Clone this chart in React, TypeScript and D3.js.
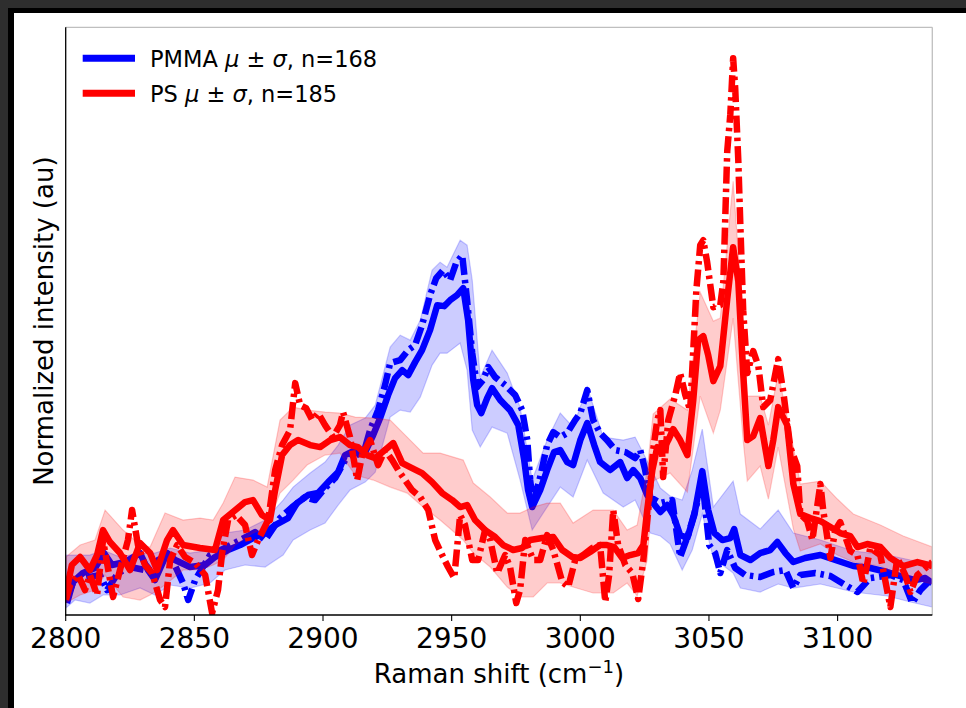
import React from "react";
import * as d3 from "d3";

// Raman shift axis
const xTicks = [2800, 2850, 2900, 2950, 3000, 3050, 3100];
const X_MIN = 2800;
const X_MAX = 3136.8;
const Y_MIN = 0;
const Y_MAX = 5.88;

// PMMA mean spectrum [shift, intensity]
const pmmaMean: [number, number][] = [
  [2800.5, 0.12], [2802.8, 0.33], [2806.7, 0.42], [2811.4, 0.47], [2814.9, 0.62], [2818.0, 0.50],
  [2823.1, 0.53], [2828.9, 0.62], [2832.0, 0.45], [2834.7, 0.35], [2839.4, 0.62], [2842.5, 0.55],
  [2848.3, 0.48], [2854.2, 0.50], [2858.0, 0.58], [2863.1, 0.65], [2867.8, 0.70], [2872.8, 0.77],
  [2877.5, 0.82], [2881.4, 0.90], [2886.4, 0.97], [2889.9, 1.12], [2894.2, 1.20], [2898.1, 1.22],
  [2902.0, 1.33], [2905.9, 1.43], [2908.6, 1.60], [2912.5, 1.65], [2916.4, 1.63], [2919.5, 1.80],
  [2922.2, 1.97], [2925.3, 2.20], [2928.0, 2.37], [2930.8, 2.45], [2933.1, 2.40], [2935.8, 2.53],
  [2938.5, 2.65], [2941.6, 2.85], [2944.4, 3.10], [2947.1, 3.09], [2949.4, 3.15], [2952.1, 3.20],
  [2954.5, 3.27], [2956.4, 2.95], [2958.4, 2.35], [2959.9, 2.10], [2961.5, 2.02], [2963.8, 2.17],
  [2965.7, 2.27], [2968.9, 2.15], [2972.7, 2.05], [2975.9, 1.90], [2978.2, 1.55], [2979.7, 1.25],
  [2981.3, 1.08], [2984.4, 1.25], [2987.1, 1.45], [2989.8, 1.63], [2992.2, 1.65], [2994.9, 1.53],
  [2997.2, 1.50], [3000.0, 1.75], [3002.7, 1.92], [3005.4, 1.70], [3007.7, 1.53], [3011.6, 1.45],
  [3015.5, 1.53], [3018.2, 1.37], [3020.6, 1.45], [3023.3, 1.37], [3026.0, 1.20], [3028.3, 1.12],
  [3031.1, 1.03], [3033.8, 1.10], [3036.1, 1.00], [3038.8, 0.80], [3041.6, 0.77], [3044.3, 1.00],
  [3047.4, 1.44], [3049.7, 1.05], [3052.1, 0.82], [3055.2, 0.75], [3058.3, 0.77], [3059.8, 0.86],
  [3062.2, 0.60], [3066.1, 0.55], [3069.9, 0.62], [3073.8, 0.65], [3076.6, 0.73], [3079.7, 0.62],
  [3082.8, 0.53], [3087.4, 0.57], [3093.3, 0.60], [3099.1, 0.55], [3106.1, 0.49], [3112.7, 0.47],
  [3119.3, 0.43], [3124.4, 0.39], [3130.2, 0.35], [3134.1, 0.37], [3136.8, 0.32],
];

// PMMA second (dash-dot) spectrum [shift, intensity]
const pmmaDashDot: [number, number][] = [
  [2800.5, 0.17], [2802.8, 0.32], [2807.5, 0.37], [2813.3, 0.40], [2816.1, 0.25], [2820.3, 0.42],
  [2825.0, 0.48], [2830.8, 0.45], [2835.9, 0.55], [2840.6, 0.60], [2845.6, 0.32], [2847.6, 0.15],
  [2850.3, 0.35], [2856.1, 0.60], [2861.9, 0.67], [2867.8, 0.75], [2873.6, 0.83], [2877.5, 0.75],
  [2883.3, 0.97], [2888.0, 1.08], [2893.0, 1.18], [2896.9, 1.15], [2900.8, 1.27], [2904.7, 1.37],
  [2908.6, 1.55], [2912.5, 1.65], [2915.2, 1.57], [2918.3, 1.85], [2921.4, 2.05], [2924.1, 2.30],
  [2926.1, 2.52], [2930.0, 2.55], [2933.1, 2.65], [2935.8, 2.70], [2938.5, 2.90], [2941.6, 3.20],
  [2944.0, 3.37], [2946.7, 3.45], [2949.4, 3.35], [2951.7, 3.52], [2954.1, 3.60], [2956.0, 3.15],
  [2958.0, 2.62], [2959.9, 2.28], [2962.2, 2.35], [2964.2, 2.48], [2966.9, 2.38], [2970.8, 2.30],
  [2974.7, 2.20], [2977.4, 2.05], [2979.4, 1.75], [2980.5, 1.35], [2981.7, 1.12], [2984.4, 1.38],
  [2987.1, 1.70], [2989.5, 1.83], [2992.2, 1.78], [2994.9, 1.82], [2998.0, 1.95], [3000.0, 2.02],
  [3002.7, 2.25], [3005.0, 1.95], [3007.7, 1.82], [3010.4, 1.75], [3013.6, 1.65], [3017.5, 1.63],
  [3021.3, 1.57], [3023.3, 1.65], [3025.2, 1.45], [3027.2, 1.18], [3031.1, 1.12], [3035.7, 1.15],
  [3038.8, 0.58], [3041.9, 0.80], [3044.7, 1.05], [3047.4, 1.35], [3050.1, 0.70], [3052.4, 0.62],
  [3054.4, 0.42], [3057.1, 0.65], [3060.2, 0.47], [3064.1, 0.40], [3069.9, 0.38], [3075.0, 0.43],
  [3079.7, 0.45], [3082.8, 0.27], [3085.5, 0.40], [3091.3, 0.42], [3097.2, 0.39], [3103.0, 0.30],
  [3107.7, 0.23], [3112.7, 0.37], [3120.5, 0.40], [3125.5, 0.35], [3129.0, 0.12], [3132.2, 0.25],
  [3136.8, 0.37],
];

// PMMA mean ± sd band [shift, low, high]
const pmmaBand: [number, number, number][] = [
  [2800.1, 0.07, 0.60], [2803.6, 0.15, 0.60], [2809.4, 0.12, 0.60], [2814.5, 0.20, 0.65],
  [2821.1, 0.20, 0.58], [2828.9, 0.27, 0.62], [2834.7, 0.20, 0.62], [2840.6, 0.30, 0.67],
  [2848.3, 0.27, 0.62], [2856.1, 0.32, 0.65], [2861.9, 0.45, 0.82], [2869.7, 0.50, 0.85],
  [2877.5, 0.48, 0.95], [2884.5, 0.60, 1.15], [2888.4, 0.75, 1.28], [2895.0, 0.85, 1.42],
  [2900.8, 0.92, 1.53], [2905.9, 1.10, 1.70], [2910.5, 1.25, 1.90], [2916.4, 1.33, 1.97],
  [2920.3, 1.43, 2.10], [2926.1, 1.98, 2.68], [2930.0, 2.05, 2.80], [2933.9, 2.03, 2.75],
  [2937.8, 2.18, 2.95], [2942.4, 2.50, 3.45], [2945.5, 2.62, 3.53], [2948.2, 2.62, 3.48],
  [2953.3, 2.72, 3.75], [2956.0, 2.45, 3.70], [2958.0, 1.85, 3.35], [2961.1, 1.68, 2.38],
  [2965.7, 1.88, 2.65], [2971.6, 1.82, 2.42], [2976.6, 1.35, 2.08], [2981.3, 0.85, 1.35],
  [2987.1, 1.08, 1.75], [2992.2, 1.28, 2.02], [2997.2, 1.18, 1.88], [3002.7, 1.55, 2.28],
  [3008.9, 1.22, 1.78], [3016.7, 1.08, 1.75], [3021.3, 1.15, 1.78], [3027.2, 0.82, 1.48],
  [3031.1, 0.79, 1.27], [3034.9, 0.71, 1.19], [3039.6, 0.45, 1.15], [3043.5, 0.65, 1.45],
  [3047.4, 1.01, 1.86], [3051.7, 0.57, 1.08], [3059.4, 0.42, 1.34], [3062.2, 0.27, 1.01],
  [3069.9, 0.23, 0.86], [3076.9, 0.31, 1.05], [3082.8, 0.27, 0.82], [3093.3, 0.31, 0.75],
  [3106.1, 0.23, 0.64], [3119.3, 0.19, 0.60], [3128.3, 0.13, 0.55], [3136.8, 0.08, 0.53],
];

// PS mean spectrum [shift, intensity]
const psMean: [number, number][] = [
  [2800.1, 0.22], [2802.4, 0.50], [2805.6, 0.58], [2809.4, 0.45], [2812.2, 0.60], [2814.5, 0.85],
  [2817.2, 0.73], [2821.1, 0.62], [2825.0, 0.45], [2828.9, 0.72], [2832.8, 0.62], [2835.5, 0.45],
  [2839.4, 0.75], [2841.7, 0.85], [2845.6, 0.70], [2852.2, 0.67], [2858.0, 0.65], [2861.2, 0.95],
  [2865.0, 1.03], [2869.7, 1.13], [2872.8, 1.15], [2876.3, 1.00], [2879.4, 0.95], [2881.4, 1.25],
  [2884.1, 1.60], [2887.2, 1.70], [2890.3, 1.75], [2895.0, 1.70], [2898.9, 1.68], [2902.8, 1.75],
  [2906.6, 1.78], [2910.5, 1.70], [2913.6, 1.68], [2917.1, 1.60], [2920.3, 1.57], [2924.1, 1.65],
  [2927.3, 1.72], [2930.8, 1.52], [2934.6, 1.47], [2938.5, 1.42], [2942.4, 1.33], [2946.3, 1.22],
  [2950.2, 1.15], [2953.3, 1.08], [2956.0, 1.10], [2959.1, 0.95], [2963.0, 0.85], [2966.9, 0.78],
  [2970.0, 0.70], [2973.9, 0.65], [2977.4, 0.67], [2980.5, 0.75], [2985.2, 0.77], [2989.5, 0.78],
  [2993.0, 0.65], [2996.9, 0.58], [3000.0, 0.57], [3003.8, 0.63], [3007.7, 0.70], [3010.4, 0.70],
  [3013.2, 0.68], [3016.3, 0.57], [3019.4, 0.60], [3022.5, 0.62], [3024.5, 0.70], [3026.0, 1.05],
  [3028.0, 1.45], [3029.9, 1.68], [3032.2, 1.65], [3034.2, 1.75], [3036.1, 1.86], [3038.8, 1.75],
  [3041.6, 1.60], [3043.9, 2.15], [3045.8, 2.75], [3047.8, 2.79], [3049.7, 2.60], [3051.7, 2.34],
  [3054.4, 2.49], [3057.1, 3.16], [3059.4, 3.68], [3061.4, 3.34], [3063.3, 2.42], [3064.9, 1.75],
  [3067.2, 1.79], [3069.9, 1.97], [3073.1, 1.49], [3075.0, 1.75], [3076.9, 2.08], [3080.4, 1.90],
  [3082.8, 1.31], [3085.5, 1.01], [3089.4, 0.97], [3093.3, 0.94], [3097.2, 0.88], [3101.0, 0.82],
  [3104.9, 0.79], [3107.7, 0.68], [3111.5, 0.71], [3116.6, 0.68], [3120.5, 0.57], [3125.5, 0.49],
  [3131.0, 0.53], [3136.8, 0.49],
];

// PS second (dash-dot) spectrum [shift, intensity]
const psDashDot: [number, number][] = [
  [2800.1, 0.15], [2801.7, 0.30], [2804.8, 0.40], [2807.5, 0.25], [2809.4, 0.40], [2812.2, 0.20],
  [2814.5, 0.75], [2818.4, 0.18], [2821.1, 0.45], [2824.2, 0.75], [2825.8, 1.05], [2828.1, 0.70],
  [2830.8, 0.50], [2833.6, 0.42], [2836.7, 0.15], [2838.6, 0.08], [2840.6, 0.55], [2843.3, 0.70],
  [2846.4, 0.58], [2850.3, 0.52], [2854.2, 0.40], [2856.9, 0.02], [2859.2, 0.25], [2860.8, 0.62],
  [2863.1, 0.95], [2866.2, 1.00], [2869.7, 0.90], [2872.4, 0.60], [2874.8, 0.75], [2878.7, 0.95],
  [2881.4, 1.45], [2884.1, 1.70], [2887.2, 1.85], [2889.2, 2.32], [2891.1, 2.10], [2893.4, 2.07],
  [2895.8, 1.95], [2898.1, 2.02], [2900.8, 1.90], [2903.9, 1.78], [2906.6, 1.90], [2907.8, 2.03],
  [2910.5, 1.78], [2913.3, 1.35], [2915.2, 1.60], [2918.3, 1.75], [2921.4, 1.50], [2924.1, 1.65],
  [2926.9, 1.55], [2929.2, 1.45], [2931.9, 1.35], [2934.6, 1.25], [2937.8, 1.18], [2940.9, 1.05],
  [2943.6, 0.75], [2946.3, 0.60], [2948.6, 0.48], [2951.0, 0.37], [2953.3, 1.00], [2955.2, 0.90],
  [2958.0, 0.55], [2960.3, 0.55], [2963.0, 0.85], [2965.0, 0.75], [2967.7, 0.42], [2970.8, 0.60],
  [2972.7, 0.48], [2975.1, 0.12], [2976.6, 0.25], [2978.6, 0.75], [2981.7, 0.55], [2984.4, 0.55],
  [2987.1, 0.80], [2989.5, 0.65], [2993.0, 0.33], [2995.3, 0.28], [2998.0, 0.55], [3001.1, 0.60],
  [3004.6, 0.67], [3007.7, 0.70], [3009.7, 0.13], [3011.2, 0.40], [3012.8, 1.05], [3014.7, 0.70],
  [3017.5, 0.50], [3020.2, 0.42], [3022.5, 0.16], [3024.5, 0.55], [3026.4, 1.05], [3028.3, 1.65],
  [3029.9, 1.95], [3031.1, 2.05], [3032.2, 1.38], [3034.2, 1.95], [3036.9, 2.20], [3038.8, 2.42],
  [3040.8, 2.20], [3042.7, 2.05], [3045.1, 3.25], [3046.6, 3.70], [3047.8, 3.75], [3049.3, 3.53],
  [3051.7, 3.08], [3054.4, 3.10], [3055.6, 3.34], [3057.1, 4.64], [3058.3, 5.01], [3059.4, 5.57],
  [3060.2, 5.27], [3061.4, 4.55], [3062.2, 3.90], [3063.3, 3.05], [3064.9, 2.42], [3067.2, 2.64],
  [3069.2, 2.49], [3071.1, 2.08], [3073.8, 2.15], [3076.9, 2.56], [3078.9, 2.23], [3081.6, 1.68],
  [3084.3, 1.49], [3085.5, 1.01], [3088.2, 0.94], [3090.2, 0.75], [3093.3, 1.31], [3094.4, 1.05],
  [3097.2, 0.57], [3099.1, 0.85], [3101.0, 0.93], [3104.9, 0.64], [3107.7, 0.60], [3110.0, 0.31],
  [3112.7, 0.67], [3116.6, 0.60], [3120.5, 0.08], [3123.2, 0.57], [3126.3, 0.40], [3128.3, 0.23],
  [3131.0, 0.40], [3133.3, 0.45], [3136.8, 0.53],
];

// PS mean ± sd band [shift, low, high]
const psBand: [number, number, number][] = [
  [2800.1, 0.12, 0.58], [2805.6, 0.20, 0.70], [2811.4, 0.25, 0.75], [2815.3, 0.40, 1.05],
  [2822.3, 0.18, 0.85], [2828.9, 0.15, 0.70], [2832.8, 0.20, 0.68], [2838.6, 0.30, 1.02],
  [2845.6, 0.45, 0.95], [2852.2, 0.45, 0.97], [2857.3, 0.50, 0.95], [2861.2, 0.55, 1.12],
  [2865.8, 0.70, 1.38], [2872.8, 0.82, 1.35], [2878.3, 0.88, 1.28], [2883.3, 1.22, 1.95],
  [2888.4, 1.35, 2.08], [2893.8, 1.50, 2.05], [2900.8, 1.60, 2.03], [2906.6, 1.62, 2.02],
  [2912.5, 1.40, 1.98], [2919.5, 1.35, 1.97], [2926.1, 1.28, 1.95], [2932.7, 1.22, 1.78],
  [2938.9, 1.08, 1.62], [2945.5, 0.95, 1.62], [2954.5, 0.75, 1.55], [2958.4, 0.62, 1.32],
  [2965.0, 0.48, 1.18], [2971.6, 0.28, 1.02], [2976.6, 0.18, 1.02], [2981.7, 0.18, 1.08],
  [2987.1, 0.32, 1.12], [2992.2, 0.32, 1.12], [2997.2, 0.28, 0.92], [3005.0, 0.22, 1.05],
  [3012.8, 0.22, 1.05], [3018.2, 0.32, 0.85], [3022.1, 0.19, 0.90], [3026.0, 0.55, 1.45],
  [3028.3, 1.34, 2.01], [3034.9, 1.42, 2.16], [3041.6, 1.23, 2.05], [3046.6, 2.19, 3.23],
  [3051.7, 1.82, 2.94], [3054.4, 2.05, 2.97], [3059.4, 2.97, 4.34], [3063.3, 1.75, 2.95],
  [3064.9, 1.34, 2.19], [3069.9, 1.49, 2.19], [3073.1, 1.16, 1.90], [3076.9, 1.68, 2.42],
  [3082.8, 0.86, 1.68], [3085.5, 0.64, 1.31], [3093.3, 0.71, 1.34], [3099.9, 0.60, 1.16],
  [3106.1, 0.53, 1.01], [3116.6, 0.49, 0.90], [3125.5, 0.38, 0.79], [3136.8, 0.31, 0.68],
];

const legendLabels = ["PMMA", "PS"];
const legendCounts = [168, 185];

const FONT = "'DejaVu Sans', sans-serif";
const BLUE = "#0000ff";
const RED = "#ff0000";

export default function App() {
  const W = 966;
  const H = 708;
  const left = 65.7;
  const right = 932.3;
  const top = 27.3;
  const bottom = 615;

  const x = d3.scaleLinear().domain([X_MIN, X_MAX]).range([left, right]);
  const y = d3.scaleLinear().domain([Y_MIN, Y_MAX]).range([bottom, top]);

  const line = d3
    .line<[number, number]>()
    .x((d) => x(d[0]))
    .y((d) => y(d[1]));
  const area = d3
    .area<[number, number, number]>()
    .x((d) => x(d[0]))
    .y0((d) => y(d[1]))
    .y1((d) => y(d[2]));

  const lw = 6.5;
  const dash = "17 5 3.5 5";

  const series = [
    { color: BLUE, band: pmmaBand, mean: pmmaMean, dd: pmmaDashDot },
    { color: RED, band: psBand, mean: psMean, dd: psDashDot },
  ];

  return (
    <svg
      width={W}
      height={H}
      style={{ position: "absolute", left: 0, top: 0, display: "block" }}
      fontFamily={FONT}
    >
      <rect x={0} y={0} width={W} height={H} fill="#2e2e2e" />
      <rect x={8} y={8} width={W - 8} height={H - 8} fill="#000" />
      <rect x={14} y={13} width={W - 14} height={H - 13} fill="#fff" />

      <defs>
        <clipPath id="plotClip">
          <rect x={left} y={top} width={right - left} height={bottom - top} />
        </clipPath>
      </defs>

      <g clipPath="url(#plotClip)">
        {series.map((s, i) => (
          <g key={i}>
            <path
              d={area(s.band) || ""}
              fill={s.color}
              fillOpacity={0.2}
              stroke={s.color}
              strokeOpacity={0.2}
              strokeWidth={1.2}
            />
            <path
              d={line(s.mean) || ""}
              fill="none"
              stroke={s.color}
              strokeWidth={lw}
              strokeLinejoin="round"
            />
            <path
              d={line(s.dd) || ""}
              fill="none"
              stroke={s.color}
              strokeWidth={lw}
              strokeLinejoin="round"
              strokeDasharray={dash}
            />
          </g>
        ))}
      </g>

      {/* spines */}
      <line x1={left} x2={right} y1={top} y2={top} stroke="#bfbfbf" strokeWidth={1.3} />
      <line x1={right} x2={right} y1={top} y2={bottom} stroke="#bfbfbf" strokeWidth={1.3} />
      <line x1={left} x2={left} y1={top} y2={bottom + 0.6} stroke="#000" strokeWidth={1.3} />
      <line x1={left - 0.6} x2={right} y1={bottom} y2={bottom} stroke="#000" strokeWidth={1.3} />

      {/* x ticks */}
      {xTicks.map((t) => (
        <g key={t}>
          <line x1={x(t)} x2={x(t)} y1={bottom} y2={bottom + 6} stroke="#000" strokeWidth={1.1} />
          <text x={x(t)} y={648} fontSize={28} textAnchor="middle" fill="#000">
            {t}
          </text>
        </g>
      ))}

      {/* axis labels */}
      <text x={(left + right) / 2} y={682.5} fontSize={26} textAnchor="middle" fill="#000">
        Raman shift (cm
        <tspan fontSize={18} dy={-10}>−1</tspan>
        <tspan dy={10}>)</tspan>
      </text>
      <text
        transform={`translate(53, ${(top + bottom) / 2}) rotate(-90)`}
        fontSize={26}
        textAnchor="middle"
        fill="#000"
      >
        Normalized intensity (au)
      </text>

      {/* legend */}
      {legendLabels.map((lab, i) => {
        const cy = 58.3 + i * 35;
        return (
          <g key={lab}>
            <line x1={82.7} x2={135} y1={cy} y2={cy} stroke={i === 0 ? BLUE : RED} strokeWidth={7} />
            <text x={150} y={cy + 8.3} fontSize={22.5} fill="#000">
              {lab} <tspan fontStyle="italic">μ</tspan> ± <tspan fontStyle="italic">σ</tspan>, n={legendCounts[i]}
            </text>
          </g>
        );
      })}
    </svg>
  );
}
